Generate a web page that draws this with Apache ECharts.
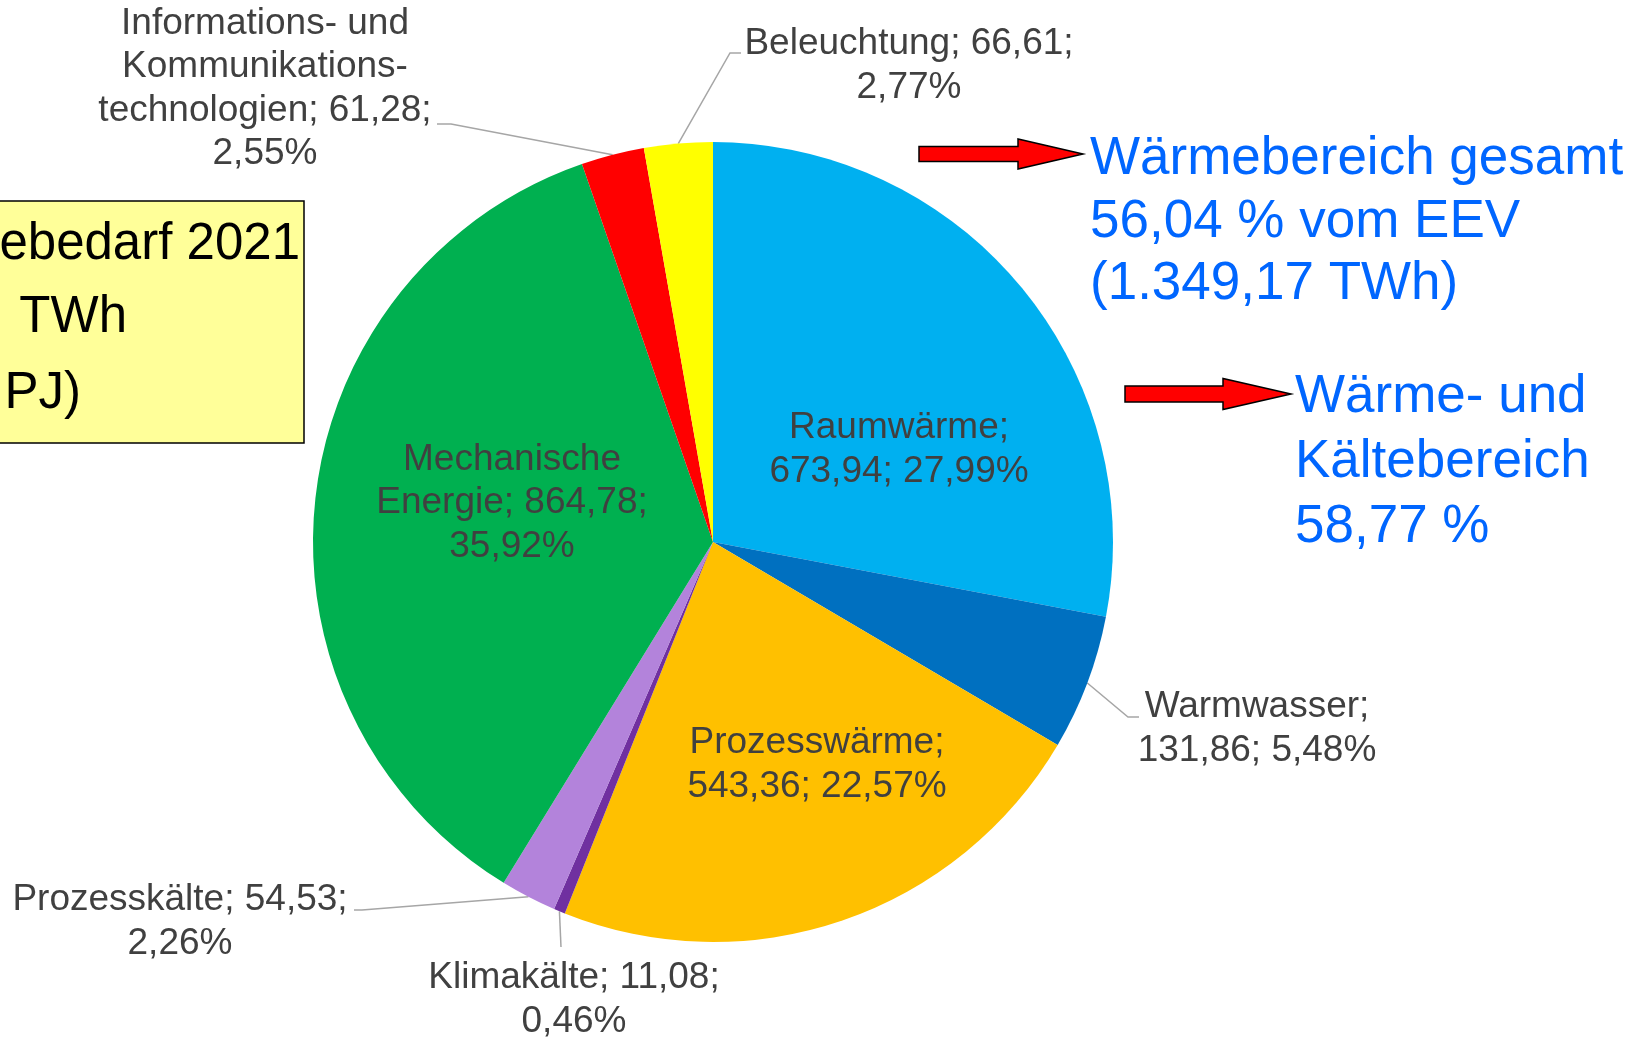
<!DOCTYPE html>
<html lang="de">
<head>
<meta charset="UTF-8">
<title>Nutzenergiebedarf 2021 nach Anwendungen</title>
<script src="https://cdn.jsdelivr.net/npm/echarts@6/dist/echarts.min.js"></script>
</head>
<body style="margin:0;background:#fff;">
<div id="main" style="width:1634px;height:1038px;"></div>
<script>
// Anwendungsbereiche (TWh), im Uhrzeigersinn ab 12 Uhr
const names = ['Raumwärme', 'Warmwasser', 'Prozesswärme', 'Klimakälte', 'Prozesskälte',
    'Mechanische\nEnergie', 'Informations- und\nKommunikations-\ntechnologien', 'Beleuchtung'];
const values = [673.94, 131.86, 543.36, 11.08, 54.53, 864.78, 61.28, 66.61];
const shares = [27.99, 5.48, 22.57, 0.46, 2.26, 35.92, 2.55, 2.77];
// true = Wert steht noch in der Zeile mit dem Namen
const valueOnNameLine = [false, false, false, true, true, true, true, true];
const insideLabel = [true, false, true, false, false, true, false, false];
const colors = ['#00B0F0', '#0070C0', '#FFC000', '#7030A0', '#B383DB', '#00B050', '#FF0000', '#FFFF00'];

const boxLines = ['ebedarf 2021', 'TWh', 'PJ)'];
const noteTop = 'Wärmebereich gesamt\n56,04 % vom EEV\n(1.349,17 TWh)';
const noteBottom = 'Wärme- und\nKältebereich\n58,77 %';

// Layout der Beschriftungen (Mittelpunkt des Textblocks, Knickpunkte der Linie)
const labelSpots = [
    {x: 899, y: 450},
    {x: 1257, y: 729, line: [[1128, 717], [1139, 717]]},
    {x: 817, y: 765},
    {x: 574, y: 1000, line: [[561, 947]]},
    {x: 180, y: 922, line: [[362, 910], [354, 910]]},
    {x: 512, y: 503},
    {x: 265, y: 89, line: [[451, 124], [437, 124]]},
    {x: 909, y: 66, line: [[730, 53], [741, 53]]}
];

const FONT = '"Liberation Sans", Arial, Helvetica, sans-serif';

function de(v) {
    return v.toFixed(2).replace('.', ',');
}

function arrow(x0, xh, xt, yc, sh, hh) {
    return [[x0, yc - sh], [xh, yc - sh], [xh, yc - hh], [xt, yc],
        [xh, yc + hh], [xh, yc + sh], [x0, yc + sh]];
}

const data = names.map(function (n, i) {
    const item = {name: n, value: values[i], itemStyle: {color: colors[i]}};
    if (insideLabel[i]) {
        item.label = {position: 'inside'};
        item.labelLine = {show: false};
    }
    return item;
});

const myChart = echarts.init(document.getElementById('main'));

const option = {
    backgroundColor: '#ffffff',
    animation: false,
    graphic: [
        {type: 'rect', shape: {x: -4, y: 201, width: 308, height: 242},
            style: {fill: '#FFFF99', stroke: '#000000', lineWidth: 1.5}},
        {type: 'text', style: {text: boxLines[0], x: 300, y: 244.5, align: 'right', verticalAlign: 'middle',
                fontSize: 51, fontFamily: FONT, fill: '#000000'}},
        {type: 'text', style: {text: boxLines[1], x: 127, y: 317.5, align: 'right', verticalAlign: 'middle',
                fontSize: 51, fontFamily: FONT, fill: '#000000'}},
        {type: 'text', style: {text: boxLines[2], x: 81, y: 393.5, align: 'right', verticalAlign: 'middle',
                fontSize: 51, fontFamily: FONT, fill: '#000000'}},
        {type: 'polygon', shape: {points: arrow(919, 1018, 1083, 154, 7.5, 15)},
            style: {fill: '#FF0000', stroke: '#000000', lineWidth: 1.5}},
        {type: 'polygon', shape: {points: arrow(1125, 1223, 1291, 394, 8, 15.5)},
            style: {fill: '#FF0000', stroke: '#000000', lineWidth: 1.5}},
        {type: 'text', style: {text: noteTop, x: 1090, y: 128.5, align: 'left', verticalAlign: 'top',
                fontSize: 53, lineHeight: 62.5, fontFamily: FONT, fill: '#0066FF'}},
        {type: 'text', style: {text: noteBottom, x: 1295, y: 365, align: 'left', verticalAlign: 'top',
                fontSize: 53, lineHeight: 65, fontFamily: FONT, fill: '#0066FF'}}
    ],
    series: [{
        type: 'pie',
        center: [713, 542],
        radius: 400,
        startAngle: 90,
        clockwise: true,
        avoidLabelOverlap: false,
        silent: true,
        itemStyle: {borderWidth: 0},
        label: {
            show: true,
            position: 'outside',
            color: '#404040',
            fontSize: 37,
            lineHeight: 43.5,
            fontFamily: FONT,
            align: 'center',
            formatter: function (p) {
                const i = p.dataIndex;
                const sep = valueOnNameLine[i] ? ' ' : '\n';
                return names[i] + ';' + sep + de(values[i]) + ';' + (valueOnNameLine[i] ? '\n' : ' ') + de(shares[i]) + '%';
            }
        },
        labelLine: {show: true, length: 20, length2: 10, lineStyle: {color: '#A6A6A6', width: 1.5}},
        labelLayout: function (p) {
            const s = labelSpots[p.dataIndex];
            const out = {x: s.x, y: s.y, align: 'center', verticalAlign: 'middle'};
            if (s.line && p.labelLinePoints && p.labelLinePoints.length) {
                out.labelLinePoints = [p.labelLinePoints[0]].concat(s.line);
            }
            return out;
        },
        data: data
    }]
};

myChart.setOption(option);
</script>
</body>
</html>
